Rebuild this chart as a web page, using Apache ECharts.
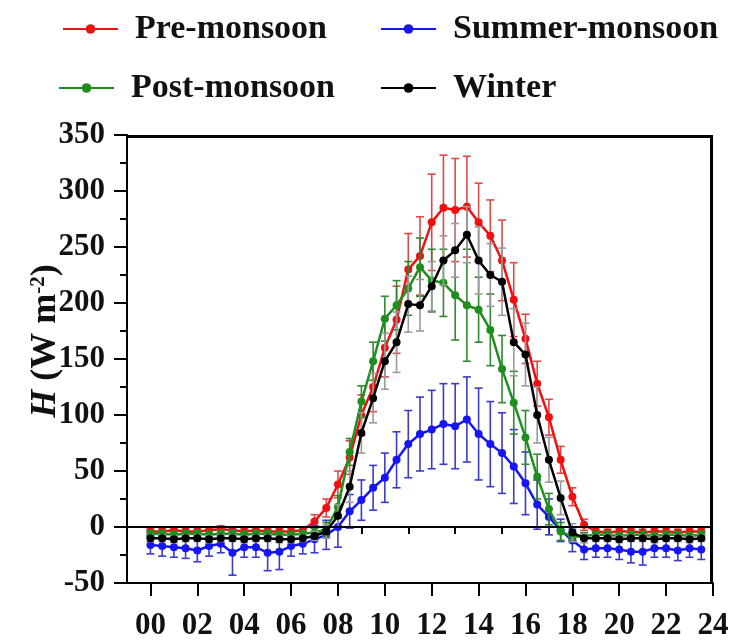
<!DOCTYPE html>
<html>
<head>
<meta charset="utf-8">
<script src="https://cdn.jsdelivr.net/npm/echarts@6/dist/echarts.min.js"></script>
<style>
  html, body { margin: 0; padding: 0; background: #fff; }
  #chart { width: 734px; height: 641px; }
</style>
</head>
<body>
<div id="chart"></div>
<script>
// Half-hourly time of day (h)
const hours = [
  0, 0.5, 1, 1.5, 2, 2.5, 3, 3.5, 4, 4.5, 5, 5.5,
  6, 6.5, 7, 7.5, 8, 8.5, 9, 9.5, 10, 10.5, 11, 11.5,
  12, 12.5, 13, 13.5, 14, 14.5, 15, 15.5, 16, 16.5, 17, 17.5,
  18, 18.5, 19, 19.5, 20, 20.5, 21, 21.5, 22, 22.5, 23, 23.5
];

const seriesNames = ['Pre-monsoon', 'Summer-monsoon', 'Post-monsoon', 'Winter'];

// Sensible heat flux H (W m-2), mean and standard deviation per half hour
const preMonsoon = [
  -4, -4, -3, -4, -4, -3, -2, -3, -4, -3, -4, -4,
  -4, -3, 5, 17, 38, 62, 100, 125, 160, 185, 230, 242,
  272, 285, 283, 286, 272, 260, 238, 203, 168, 128, 98, 60,
  27, 2, -4, -5, -4, -4, -5, -4, -4, -5, -4, -4
];
const preMonsoonSd = [
  3, 3, 3, 3, 3, 3, 3, 3, 3, 3, 3, 3,
  3, 3, 6, 8, 12, 15, 18, 22, 26, 30, 32, 35,
  43, 47, 46, 45, 35, 32, 36, 33, 22, 20, 16, 12,
  8, 5, 3, 3, 3, 3, 3, 3, 3, 3, 3, 3
];

const summerMonsoon = [
  -16, -17, -18, -19, -21, -17, -15, -23, -18, -18, -23, -22,
  -17, -15, -11, -7, 0, 14, 24, 35, 44, 60, 74, 83,
  87, 92, 90, 96, 83, 74, 66, 54, 39, 20, 9, -3,
  -12, -20, -19, -19, -20, -22, -22, -19, -19, -21, -19, -20
];
const summerMonsoonSd = [
  8, 9, 9, 9, 10, 9, 8, 20, 9, 9, 16, 16,
  9, 9, 12, 13, 18, 15, 18, 20, 22, 25, 30, 33,
  35, 36, 38, 38, 41, 38, 36, 33, 28, 22, 16, 10,
  10, 9, 8, 8, 9, 10, 12, 8, 8, 9, 8, 9
];

const postMonsoon = [
  -6, -6, -7, -6, -6, -7, -6, -6, -7, -6, -6, -7,
  -7, -6, -5, -2, 18, 67, 112, 148, 186, 198, 213, 232,
  220, 218, 207, 198, 194, 176, 141, 111, 80, 45, 16, -4,
  -9, -8, -7, -7, -8, -7, -7, -8, -7, -7, -8, -7
];
const postMonsoonSd = [
  3, 3, 3, 3, 3, 3, 3, 3, 3, 3, 3, 3,
  3, 3, 4, 6, 10, 12, 14, 17, 20, 22, 24, 26,
  28, 30, 40, 50, 29, 32, 30, 28, 24, 20, 14, 8,
  4, 3, 3, 3, 3, 3, 3, 3, 3, 3, 3, 3
];

const winter = [
  -10, -10, -11, -10, -10, -11, -10, -10, -11, -10, -10, -11,
  -11, -10, -8, -4, 10, 36, 84, 115, 148, 165, 199, 198,
  215, 238, 247, 261, 238, 225, 219, 165, 154, 100, 60, 26,
  -5, -10, -10, -10, -11, -10, -10, -11, -10, -10, -11, -10
];
const winterSd = [
  3, 3, 3, 3, 3, 3, 3, 3, 3, 3, 3, 3,
  3, 3, 4, 6, 10, 14, 18, 22, 25, 27, 25, 23,
  22, 22, 24, 25, 30, 28, 30, 30, 28, 25, 20, 15,
  8, 4, 3, 3, 3, 3, 3, 3, 3, 3, 3, 3
];

// Axis ranges, ticks and labels
const xRange = [-1, 24];
const yRange = [-50, 350];
const majorHourTicks = [0, 2, 4, 6, 8, 10, 12, 14, 16, 18, 20, 22, 24];
const minorHourTicks = [1, 3, 5, 7, 9, 11, 13, 15, 17, 19, 21, 23];

const lineColors = ['#f01010', '#1515f5', '#1e8f1e', '#000000'];
const barColors = ['#e04848', '#3a3ad0', '#2f8a2f', '#9a9a9a'];

const means = [preMonsoon, summerMonsoon, postMonsoon, winter];
const sds = [preMonsoonSd, summerMonsoonSd, postMonsoonSd, winterSd];

const FONT = '"Liberation Serif", "Times New Roman", serif';

function errorBars(idx) {
  const m = means[idx], s = sds[idx], color = barColors[idx];
  return {
    type: 'custom',
    z: 2 + idx * 2,
    silent: true,
    data: hours.map((h, i) => [h, m[i] - s[i], m[i] + s[i]]),
    encode: { x: 0, y: [1, 2] },
    renderItem: function (params, api) {
      const x = api.value(0);
      const lo = api.coord([x, api.value(1)]);
      const hi = api.coord([x, api.value(2)]);
      const w = 4;
      const st = { stroke: color, lineWidth: 1.6 };
      return {
        type: 'group',
        children: [
          { type: 'line', shape: { x1: lo[0], y1: lo[1], x2: hi[0], y2: hi[1] }, style: st },
          { type: 'line', shape: { x1: lo[0] - w, y1: lo[1], x2: lo[0] + w, y2: lo[1] }, style: st },
          { type: 'line', shape: { x1: hi[0] - w, y1: hi[1], x2: hi[0] + w, y2: hi[1] }, style: st }
        ]
      };
    }
  };
}

function meanLine(idx) {
  return {
    type: 'line',
    name: seriesNames[idx],
    z: 3 + idx * 2,
    data: hours.map((h, i) => [h, means[idx][i]]),
    symbol: 'circle',
    symbolSize: 8,
    lineStyle: { color: lineColors[idx], width: 2.5 },
    itemStyle: { color: lineColors[idx] },
    animation: false
  };
}

// Zero line plus the top and right edges of the plot box, placed through the axes
const frameSeries = {
  type: 'custom',
  silent: true,
  clip: false,
  z: 20,
  data: [[0, 0]],
  renderItem: function (params, api) {
    const bl = api.coord([xRange[0], yRange[0]]);
    const tr = api.coord([xRange[1], yRange[1]]);
    const z0 = api.coord([xRange[0], 0]);
    const top = tr[1] + 1.5, right = tr[0] - 1.5;
    const st = { stroke: '#000', lineWidth: 3 };
    return {
      type: 'group',
      children: [
        { type: 'line', shape: { x1: bl[0], y1: top, x2: tr[0], y2: top }, style: st },
        { type: 'line', shape: { x1: right, y1: tr[1], x2: right, y2: bl[1] }, style: st },
        { type: 'line', shape: { x1: bl[0], y1: z0[1], x2: tr[0], y2: z0[1] }, style: { stroke: '#000', lineWidth: 2 } }
      ]
    };
  }
};

const series = [];
for (let i = 0; i < 4; i++) {
  series.push(errorBars(i));
  series.push(meanLine(i));
}
series.push(frameSeries);

const legendText = { fontFamily: FONT, fontWeight: 'bold', fontSize: 34, color: '#111', padding: [0, 0, 0, 12] };
function legendAt(name, left, top) {
  return {
    data: [name], left: left, top: top,
    itemWidth: 55, itemHeight: 12,
    textStyle: legendText,
    selectedMode: false
  };
}

const option = {
  animation: false,
  backgroundColor: '#fff',
  legend: [
    legendAt('Pre-monsoon', 57, 7),
    legendAt('Summer-monsoon', 375, 7),
    legendAt('Post-monsoon', 53, 66),
    legendAt('Winter', 375, 66)
  ],
  grid: {
    left: 127, right: 21, top: 135, bottom: 57
  },
  xAxis: [
    {
      type: 'value', min: xRange[0], max: xRange[1], position: 'bottom',
      axisLine: { show: true, onZero: false, lineStyle: { color: '#000', width: 2 } },
      axisTick: { show: true, customValues: majorHourTicks, length: 13, lineStyle: { color: '#000', width: 2 } },
      axisLabel: {
        customValues: majorHourTicks,
        formatter: v => String(v).padStart(2, '0'),
        fontFamily: FONT, fontWeight: 'bold', fontSize: 31, color: '#111', margin: 27
      },
      splitLine: { show: false }
    },
    {
      type: 'value', min: xRange[0], max: xRange[1], position: 'bottom',
      axisLine: { show: false },
      axisTick: { show: true, customValues: minorHourTicks, length: 7, lineStyle: { color: '#000', width: 2 } },
      axisLabel: { show: false },
      splitLine: { show: false }
    }
  ],
  yAxis: {
    type: 'value', min: yRange[0], max: yRange[1], interval: 50, position: 'left',
    axisLine: { show: true, onZero: false, lineStyle: { color: '#000', width: 2 } },
    axisTick: { show: true, length: 13, lineStyle: { color: '#000', width: 2 } },
    minorTick: { show: true, splitNumber: 2, length: 7, lineStyle: { color: '#000', width: 2 } },
    axisLabel: { fontFamily: FONT, fontWeight: 'bold', fontSize: 31, color: '#111', margin: 22 },
    splitLine: { show: false },
    minorSplitLine: { show: false },
    name: '{i|H} {n|(W m}{s|-2}{n|)}',
    nameLocation: 'middle',
    nameRotate: 90,
    nameGap: 63,
    nameMoveOverlap: false,
    nameTextStyle: {
      fontFamily: FONT, fontWeight: 'bold', fontSize: 36, color: '#111',
      padding: [0, 0, 0, 36],
      rich: {
        i: { fontFamily: FONT, fontWeight: 'bold', fontStyle: 'italic', fontSize: 36, color: '#111' },
        n: { fontFamily: FONT, fontWeight: 'bold', fontSize: 36, color: '#111' },
        s: { fontFamily: FONT, fontWeight: 'bold', fontSize: 21, color: '#111', verticalAlign: 'top', padding: [0, 0, 15, 0] }
      }
    }
  },
  series: series
};

const chart = echarts.init(document.getElementById('chart'), null, { renderer: 'canvas' });
chart.setOption(option);
</script>
</body>
</html>
